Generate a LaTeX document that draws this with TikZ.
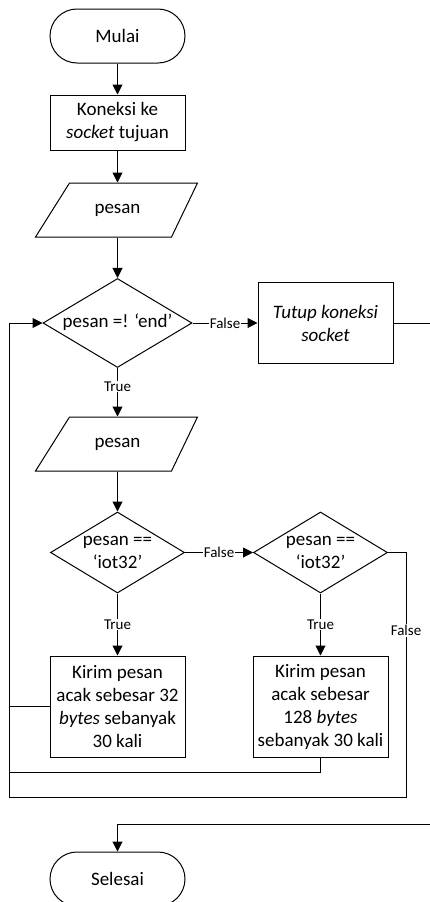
\documentclass[tikz,border=0pt]{standalone}
\usepackage{fontspec}
\setmainfont{Carlito}
\usetikzlibrary{shapes.geometric,arrows.meta,calc}
\newcommand{\zerow}[1]{\makebox[0pt]{\begin{tabular}{@{}c@{}}#1\end{tabular}}}
\begin{document}
\begin{tikzpicture}[x=1pt,y=-1pt,
  base/.style={draw, line width=1pt, font=\fontsize{19}{23}\selectfont, align=center, inner sep=0pt},
  term/.style={base, rectangle, rounded corners=27pt, minimum width=135pt, minimum height=54pt},
  proc/.style={base, rectangle, minimum width=135pt},
  io/.style={base, draw=none, minimum width=100pt, minimum height=54pt},
  dec/.style={base, diamond, aspect=1.6},
  conn/.style={line width=1pt},
  arr/.style={conn, -{Triangle[length=10pt,width=10pt]}},
  lbl/.style={font=\fontsize{15}{18}\selectfont, fill=white, inner sep=1pt}]
\useasboundingbox (0,0) rectangle (430,902);
\clip (0,0) rectangle (430,902);
\fill[white] (0,0) rectangle (430,902);

\node[term] (mulai) at (117.5,36) {Mulai};
\node[proc, minimum height=55pt] (kon) at (117.5,122.5) {Koneksi ke\\\textit{socket} tujuan};
\node[io] (p1) at (117.5,210) {pesan};
\draw[conn] ($(p1.center)+(-48,-27)$) -- ++(128,0) -- ++(-26,54) -- ++(-136,0) -- cycle;
\node[dec, minimum width=149pt, minimum height=89pt] (d1) at (117.5,323) {\zerow{pesan =! ‘end’}};
\node[proc, minimum height=81pt] (tutup) at (325.5,323) {\textit{Tutup koneksi}\\\textit{socket}};
\node[io] (p2) at (117.5,444) {pesan};
\draw[conn] ($(p2.center)+(-48,-27)$) -- ++(128,0) -- ++(-26,54) -- ++(-136,0) -- cycle;
\node[dec, minimum width=134pt, minimum height=81pt] (d2) at (117.5,552.5) {\zerow{pesan ==\\‘iot32’}};
\node[dec, minimum width=134pt, minimum height=81pt] (d3) at (320.5,552.5) {\zerow{pesan ==\\‘iot32’}};
\node[proc, minimum height=101pt] (b1) at (117.5,706.5) {Kirim pesan\\acak sebesar 32\\\textit{bytes} sebanyak\\30 kali};
\node[proc, minimum height=101pt] (b2) at (320.5,706.5) {Kirim pesan\\acak sebesar\\128 \textit{bytes}\\sebanyak 30 kali};
\node[term] (selesai) at (117.5,879) {Selesai};

\coordinate (r1) at (450,323);
\coordinate (r2) at (450,824);
\coordinate (fr) at (406,797);
\coordinate (lb) at (9,797);
\coordinate (lm) at (9,772.5);

\draw[arr] (mulai) -- (kon);
\draw[arr] (kon) -- (p1);
\draw[arr] (p1) -- (d1);
\draw[arr] (d1.east) -- node[lbl]{False} (tutup.west);
\draw[arr] (tutup.east) -- (r1) -- (r2) -| (selesai.north);
\draw[arr] (d1.south) -- node[lbl,pos=0.38]{True} (p2.north);
\draw[arr] (p2) -- (d2);
\draw[arr] (d2.east) -- node[lbl]{False} (d3.west);
\draw[arr] (d2.south) -- node[lbl]{True} (b1.north);
\draw[arr] (d3.south) -- node[lbl]{True} (b2.north);
\draw[arr] (d3.east) -| node[lbl,pos=0.66]{False} (fr) -- (lb) |- (d1.west);
\draw[conn] (b1.west) -- (b1.west -| lb);
\draw[conn] (b2.south) |- (lm);
\end{tikzpicture}
\end{document}
